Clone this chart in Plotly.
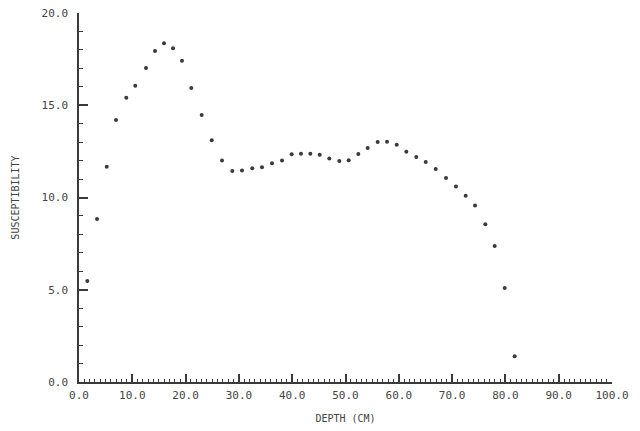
import plotly.graph_objects as go

depth_cm = [1.56, 3.38, 5.2, 6.94, 8.87, 10.56, 12.57, 14.26, 15.95, 17.64, 19.32, 21.07,
            23.02, 24.9, 26.83, 28.76, 30.58, 32.51, 34.33, 36.21, 38.09, 39.9, 41.65, 43.4,
            45.16, 46.96, 48.84, 50.6, 52.4, 54.16, 56.04, 57.79, 59.61, 61.41, 63.28, 65.05,
            66.92, 68.86, 70.73, 72.55, 74.3, 76.23, 77.99, 79.87, 81.74]
susceptibility = [5.47, 8.83, 11.67, 14.2, 15.41, 16.06, 17.02, 17.94, 18.36, 18.09, 17.41, 15.93,
                  14.47, 13.1, 12.0, 11.44, 11.47, 11.58, 11.64, 11.85, 12.0, 12.34, 12.37, 12.37,
                  12.32, 12.12, 11.98, 12.02, 12.36, 12.68, 13.01, 13.02, 12.86, 12.48, 12.2, 11.92,
                  11.54, 11.06, 10.59, 10.1, 9.56, 8.55, 7.37, 5.09, 1.39]

x_ticks = [0, 10, 20, 30, 40, 50, 60, 70, 80, 90, 100]
x_ticktext = ["0.0", "10.0", "20.0", "30.0", "40.0", "50.0", "60.0", "70.0", "80.0", "90.0", "100.0"]
y_ticks = [0, 5, 10, 15, 20]
y_ticktext = ["0.0", "5.0", "10.0", "15.0", "20.0"]

ink = "#3a3a3a"
font = dict(family="DejaVu Sans Mono", size=11, color="#444444")

fig = go.Figure()
fig.add_trace(go.Scatter(
    x=depth_cm, y=susceptibility, mode="markers",
    marker=dict(size=4, color=ink, symbol="circle"),
    showlegend=False, hoverinfo="skip"))

fig.update_layout(
    width=640, height=431,
    margin=dict(l=79, r=28, t=13, b=49),
    paper_bgcolor="white", plot_bgcolor="white",
    font=font,
)
fig.update_xaxes(
    range=[0, 100], tickvals=x_ticks, ticktext=x_ticktext,
    showgrid=False, zeroline=False, automargin=False,
    showline=True, linecolor=ink, linewidth=2,
    ticks="inside", ticklen=8, tickwidth=1.5, tickcolor=ink,
    minor=dict(dtick=1, ticks="inside", ticklen=3, tickwidth=1, tickcolor=ink, showgrid=False),
    tickfont=font, ticklabelstandoff=2,
    title=dict(text="DEPTH (CM)", font=dict(family="DejaVu Sans Mono", size=10, color="#444444"), standoff=14),
)
fig.update_yaxes(
    range=[0, 20], tickvals=y_ticks, ticktext=y_ticktext,
    showgrid=False, zeroline=False, automargin=False,
    showline=True, linecolor=ink, linewidth=1.5,
    ticks="inside", ticklen=9, tickwidth=1.5, tickcolor=ink,
    minor=dict(dtick=1, ticks="inside", ticklen=4, tickwidth=1, tickcolor=ink, showgrid=False),
    tickfont=font, ticklabelstandoff=7,
    title=dict(text="SUSCEPTIBILITY", font=dict(family="DejaVu Sans Mono", size=10, color="#444444"), standoff=20),
)

fig.write_html("out.html")
